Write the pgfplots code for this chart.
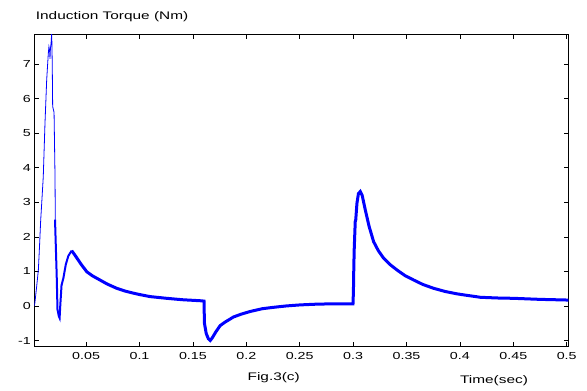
\documentclass[border=0pt]{standalone}
\usepackage{fontspec}
\setmainfont{Liberation Sans}[FakeStretch=1.4]
\usepackage{pgfplots}
\pgfplotsset{compat=1.18}
\begin{document}
\begin{tikzpicture}
\begin{axis}[name=ax, scale only axis, width=534bp, height=312.4bp,
  xmin=0.0015, xmax=0.5015, ymin=-1.18, ymax=7.86,
  xtick={0.05,0.1,0.15,0.2,0.25,0.3,0.35,0.4,0.45,0.5},
  xticklabels={0.05,0.1,0.15,0.2,0.25,0.3,0.35,0.4,0.45,0.5},
  ytick={-1,0,1,2,3,4,5,6,7},
  yticklabels={-1,0,1,2,3,4,5,6,7},
  tick align=inside, major tick length=4.5bp,
  axis line style={line width=1bp, black},
  every tick/.style={black, line width=0.6bp},
  tick label style={font=\fontsize{10.2bp}{12bp}\selectfont},
  xticklabel style={yshift=-2bp},
  yticklabel style={xshift=0bp},
  clip=true]
\addplot[blue, line width=0.8bp] coordinates {
(0.0015,0) (0.002,0.08) (0.0035,0.5) (0.0053,1.04) (0.0065,1.8) (0.0075,2.49)
(0.0085,3.0) (0.0099,3.74) (0.0115,5.28) (0.0131,6.54) (0.0146,7.3) (0.0152,7.5)
(0.0158,7.4) (0.0162,7.15) (0.0166,7.45) (0.0172,7.6) (0.0178,7.9)
(0.0183,7.0) (0.0187,5.77) (0.02,5.6) (0.0209,3.74) (0.0212,2.3)
};
\addplot[blue, line width=2bp] coordinates {
(0.0209,2.5) (0.0225,0.85) (0.0232,-0.1) (0.0245,-0.3) (0.0252,-0.35)
(0.0258,0.0) (0.027,0.6) (0.0287,0.8) (0.031,1.2) (0.0334,1.45) (0.0365,1.6)
};
\addplot[blue, line width=3bp] coordinates {
(0.0365,1.6) (0.04,1.45) (0.045,1.22) (0.0506,0.99) (0.056,0.87) (0.063,0.75)
(0.07,0.63) (0.0787,0.51) (0.0865,0.43) (0.0943,0.37) (0.1,0.33) (0.11,0.27)
(0.1256,0.22) (0.14,0.18) (0.157,0.15) (0.1604,0.14)
(0.1608,-0.5) (0.1625,-0.8) (0.1645,-0.95) (0.1662,-1.0) (0.168,-0.93)
(0.1715,-0.75) (0.1755,-0.57) (0.18,-0.47) (0.188,-0.32) (0.195,-0.24)
(0.2037,-0.16) (0.215,-0.08) (0.2255,-0.04) (0.2375,0.0) (0.2505,0.03)
(0.265,0.05) (0.2786,0.06) (0.2999,0.06)
(0.3003,0.41) (0.3006,1.0) (0.301,1.6) (0.302,2.44) (0.3025,2.5) (0.3036,2.97)
(0.305,3.25) (0.3067,3.31) (0.3085,3.2) (0.3114,2.78) (0.315,2.3) (0.3192,1.86)
(0.3236,1.6) (0.3286,1.38) (0.3345,1.2) (0.3411,1.04) (0.3485,0.88) (0.3567,0.75)
(0.3654,0.62) (0.3754,0.51) (0.386,0.42) (0.3973,0.35) (0.4036,0.32) (0.4192,0.25)
(0.435,0.23) (0.4505,0.22) (0.475,0.19) (0.5015,0.17)
};
\end{axis}
\node[anchor=base west, inner sep=0pt, font=\fontsize{11bp}{13bp}\selectfont]
  at ([xshift=1.4bp, yshift=15.3bp]ax.north west) {Induction Torque (Nm)};
\node[anchor=base, inner sep=0pt, font=\fontsize{11bp}{13bp}\selectfont]
  at ([xshift=239.4bp, yshift=-34bp]ax.south west) {Fig.3(c)};
\node[anchor=base, inner sep=0pt, font=\fontsize{11bp}{13bp}\selectfont]
  at ([xshift=459.7bp, yshift=-36.3bp]ax.south west) {Time(sec)};
\path ([xshift=-34.3bp, yshift=-43.3bp]ax.south west) rectangle ([xshift=18.7bp, yshift=34.3bp]ax.north east);
\end{tikzpicture}
\end{document}
